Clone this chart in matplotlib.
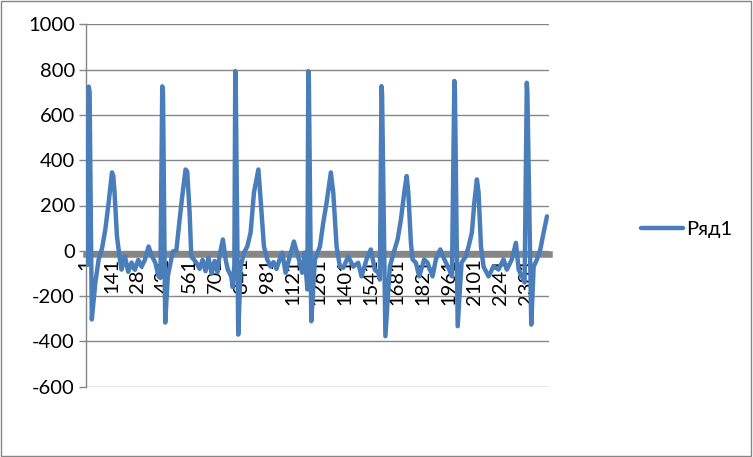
import matplotlib
matplotlib.use("Agg")
import matplotlib.pyplot as plt
from matplotlib.patches import Rectangle
import numpy as np

plt.rcParams['font.family'] = ['Lato', 'DejaVu Sans']
plt.rcParams['axes.unicode_minus'] = False

# sample index (category number) and value
sample_idx = [
    1, 8, 15, 20, 32, 51, 69, 87, 105, 123, 141, 148, 154, 168, 186,
    193, 211, 229, 247, 265, 283, 301, 319, 339, 355, 375, 393,
    403, 413, 417, 429, 443, 470, 489, 507, 521, 539, 548, 561, 570, 597,
    615, 631, 647, 663, 680, 696, 712, 723, 741, 756, 768, 786, 794,
    803, 808, 811, 824, 837, 855, 873, 891, 909, 933, 945, 963, 981,
    999, 1015, 1031, 1047, 1062, 1080, 1101, 1125, 1139, 1152, 1170, 1183, 1198,
    1203, 1206, 1219, 1239, 1266, 1284, 1302, 1325, 1338, 1356, 1374,
    1392, 1419, 1446, 1473, 1491, 1518, 1541, 1563, 1582, 1590,
    1599, 1602, 1620, 1644, 1659, 1686, 1704, 1722, 1735, 1744, 1758, 1767,
    1785, 1803, 1830, 1848, 1875, 1893, 1917, 1939, 1966, 1980,
    1993, 1996, 2011, 2032, 2055, 2070, 2088, 2101, 2115, 2124, 2137, 2151,
    2178, 2205, 2232, 2259, 2277, 2304, 2326, 2341, 2358, 2373,
    2385, 2388, 2409, 2422, 2440, 2458, 2476, 2494,
]
values = [
    -40, -60, 725, 700, -303, -140, -38, 10, 94, 213, 346, 330, 271, 63, -52,
    -83, -24, -93, -52, -84, -40, -70, -40, 19, -20, -52, -113,
    -120, 726, 700, -317, -113, -3, 0, 138, 240, 359, 350, 169, -25, -52,
    -80, -40, -90, -30, -100, -45, -95, -20, 50, -40, -84, -113, -160,
    -60, 793, 700, -370, -70, -8, 19, 81, 257, 359, 227, 19, -38,
    -70, -50, -80, -40, -8, -97, -30, 41, 0, -38, -97, -8, -171,
    793, 760, -311, -38, 19, 125, 213, 346, 257, 19, -70,
    -75, -25, -70, -53, -113, -38, 6, -84, -97, -127,
    727, 690, -377, -70, -25, 50, 138, 257, 330, 257, 35, -38,
    -53, -113, -38, -53, -113, -38, 6, -38, -84, -113,
    750, 710, -333, -52, -25, 19, 81, 213, 315, 257, 19, -70,
    -113, -68, -83, -38, -83, -38, 35, -83, -113, -140,
    742, 700, -326, -70, -38, 6, 81, 152,
]
series_name = "Ряд1"
x_ticks = list(range(1, 2382, 140))
y_ticks = list(range(-600, 1001, 200))
fs = 14.5

fig = plt.figure(figsize=(7.53, 4.57), dpi=100)
ax = fig.add_axes([86 / 753, 1 - 386.7 / 457, 463 / 753, 362.4 / 457])

line, = ax.plot(sample_idx, values, color='#4A7EBB', lw=3.2,
                solid_joinstyle='round', solid_capstyle='round', label=series_name)

ax.set_xlim(0.5, 2505)
ax.set_ylim(-600, 1000)
ax.set_yticks(y_ticks)
ax.set_xticks(x_ticks)
ax.set_xticklabels([str(t) for t in x_ticks])
ax.grid(axis='y', color='#868686', lw=1)
ax.set_axisbelow(True)

for s in ['top', 'right']:
    ax.spines[s].set_visible(False)
ax.spines['left'].set_color('#868686')
ax.spines['left'].set_linewidth(1)
ax.spines['bottom'].set_position(('data', -14))
ax.spines['bottom'].set_color('#868686')
ax.spines['bottom'].set_linewidth(4.7)
ax.spines['bottom'].set_zorder(1.5)
line.set_zorder(3)

ax.tick_params(axis='y', length=5, width=1, color='#868686', pad=3, labelsize=fs)
ax.tick_params(axis='x', length=0, pad=3, labelsize=fs, labelrotation=90)

fig.legend(handles=[line], loc='center left',
           bbox_to_anchor=(641 / 753, 1 - 229 / 457), frameon=False,
           fontsize=fs, handlelength=2.1, handletextpad=0.15, borderpad=0,
           borderaxespad=0)

fig.patches.append(Rectangle((0.5 / 753, 1 - 455.5 / 457), 750 / 753, 455 / 457,
                             transform=fig.transFigure, fill=False,
                             ec='#868686', lw=1))

fig.savefig('out.png', dpi=100)
